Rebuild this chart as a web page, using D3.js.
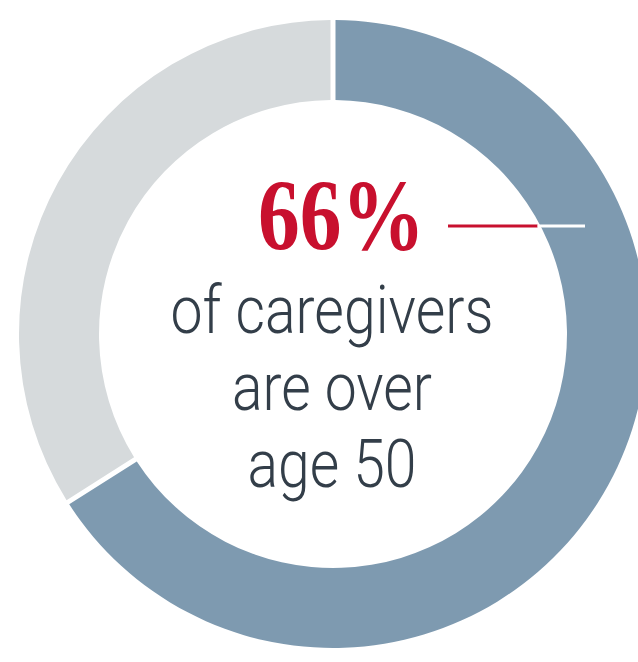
<!DOCTYPE html>
<html>
<head>
<meta charset="utf-8">
<script src="https://cdn.jsdelivr.net/npm/d3@7"></script>
<style>
  html, body { margin: 0; padding: 0; background: #ffffff; }
  svg { display: block; }
</style>
</head>
<body>
<svg id="chart" width="638" height="662"></svg>
<script>
// Share of caregivers by age group
const categories = ["Over 50", "50 and under"];
const values = [66, 34];
const colors = ["#7e9ab0", "#d6dadc"];
const headline = "66%";
const captionLines = ["of caregivers", "are over", "age 50"];

const svg = d3.select("#chart");
const cx = 333, cy = 334;
const outerR = 314, innerR = 234;

const g = svg.append("g").attr("transform", `translate(${cx},${cy})`);

const pie = d3.pie().sort(null).value(d => d);
const arc = d3.arc()
  .innerRadius(innerR)
  .outerRadius(outerR)
  .padRadius((innerR + outerR) / 2)
  .padAngle(5 / ((innerR + outerR) / 2));

const color = d3.scaleOrdinal().domain(categories).range(colors);

g.selectAll("path.slice")
  .data(pie(values))
  .join("path")
  .attr("class", "slice")
  .attr("d", arc)
  .attr("fill", (d, i) => color(categories[i]));

// Leader line from the figure into the ring
const lineY = 226 - cy;
const innerEdgeX = Math.sqrt(innerR * innerR - lineY * lineY);
g.append("line")
  .attr("x1", 448 - cx).attr("x2", innerEdgeX - 3)
  .attr("y1", lineY).attr("y2", lineY)
  .attr("stroke", "#c8102e").attr("stroke-width", 3);
g.append("line")
  .attr("x1", innerEdgeX - 3).attr("x2", 585 - cx)
  .attr("y1", lineY).attr("y2", lineY)
  .attr("stroke", "#ffffff").attr("stroke-width", 3);

// Headline figure
g.append("text")
  .attr("x", 258 - cx).attr("y", 250 - cy)
  .attr("textLength", 167)
  .attr("lengthAdjust", "spacingAndGlyphs")
  .attr("font-family", "'Liberation Serif', 'DejaVu Serif', serif")
  .attr("font-weight", 700)
  .attr("font-size", 102)
  .attr("fill", "#c8102e")
  .text(headline);

// Caption
const lineWidths = [323, 200, 169];
const baselines = [333, 410, 487];
g.selectAll("text.caption")
  .data(captionLines)
  .join("text")
  .attr("class", "caption")
  .attr("x", 332 - cx)
  .attr("y", (d, i) => baselines[i] - cy)
  .attr("text-anchor", "middle")
  .attr("textLength", (d, i) => lineWidths[i])
  .attr("lengthAdjust", "spacingAndGlyphs")
  .attr("font-family", "Roboto, 'Open Sans', sans-serif")
  .attr("font-weight", 300)
  .attr("font-size", 66)
  .attr("fill", "#333e49")
  .text(d => d);
</script>
</body>
</html>
